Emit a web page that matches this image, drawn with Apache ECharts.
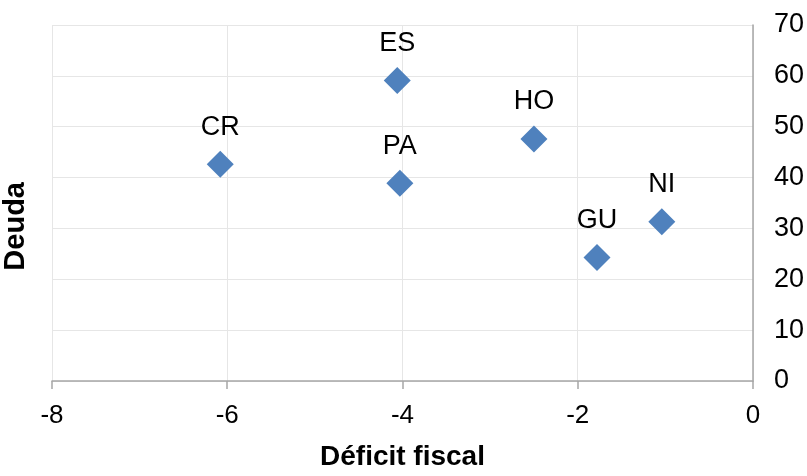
<!DOCTYPE html>
<html>
<head>
<meta charset="utf-8">
<script src="https://cdn.jsdelivr.net/npm/echarts@6/dist/echarts.min.js"></script>
<style>
  html, body { margin: 0; padding: 0; background: #fff; }
  #main { width: 807px; height: 476px; }
</style>
</head>
<body>
<div id="main"></div>
<script>
  // country codes, fiscal deficit (x) and debt (y)
  let countries = ['CR', 'ES', 'PA', 'HO', 'GU', 'NI'];
  let deficit = [-6.08, -4.06, -4.03, -2.50, -1.78, -1.04];
  let debt = [42.6, 59.1, 38.9, 47.6, 24.3, 31.3];

  let xTicks = [-8, -6, -4, -2, 0];
  let yTicks = [0, 10, 20, 30, 40, 50, 60, 70];

  let chartDom = document.getElementById('main');
  let myChart = echarts.init(chartDom);

  let font = '"Liberation Sans", Arial, sans-serif';
  let points = countries.map((c, i) => ({ name: c, value: [deficit[i], debt[i]] }));

  let option = {
    animation: false,
    textStyle: { fontFamily: font },
    grid: { left: 52, right: 54, top: 25, bottom: 91 },
    graphic: [{
      type: 'text',
      left: 1,
      top: 182,
      rotation: Math.PI / 2,
      style: {
        text: 'Deuda',
        font: 'bold 29px ' + font,
        fill: '#000'
      }
    }],
    xAxis: {
      type: 'value',
      min: xTicks[0],
      max: xTicks[xTicks.length - 1],
      interval: 2,
      name: 'Déficit fiscal',
      nameLocation: 'middle',
      nameGap: 62,
      nameTextStyle: { fontSize: 28, fontWeight: 'bold', color: '#000', fontFamily: font },
      axisLine: { onZero: false, lineStyle: { color: '#a6a6a6', width: 1.5 } },
      axisTick: { show: true, length: 8, lineStyle: { color: '#a6a6a6', width: 1.5 } },
      axisLabel: { fontSize: 26, color: '#000', margin: 22, fontFamily: font },
      splitLine: { show: true, lineStyle: { color: '#e6e6e6', width: 1 } }
    },
    yAxis: {
      type: 'value',
      position: 'right',
      min: yTicks[0],
      max: yTicks[yTicks.length - 1],
      interval: 10,
      axisLine: { show: true, onZero: false, lineStyle: { color: '#a6a6a6', width: 1.5 } },
      axisTick: { show: false },
      axisLabel: { fontSize: 27, color: '#000', margin: 21, fontFamily: font },
      splitLine: { show: true, lineStyle: { color: '#e6e6e6', width: 1 } }
    },
    series: [{
      type: 'scatter',
      symbol: 'diamond',
      symbolSize: 27,
      itemStyle: { color: '#4f81bd', opacity: 1 },
      label: {
        show: true,
        position: 'top',
        distance: 10,
        formatter: '{b}',
        fontSize: 27,
        color: '#000',
        fontFamily: font
      },
      data: points
    }]
  };

  myChart.setOption(option);
</script>
</body>
</html>
